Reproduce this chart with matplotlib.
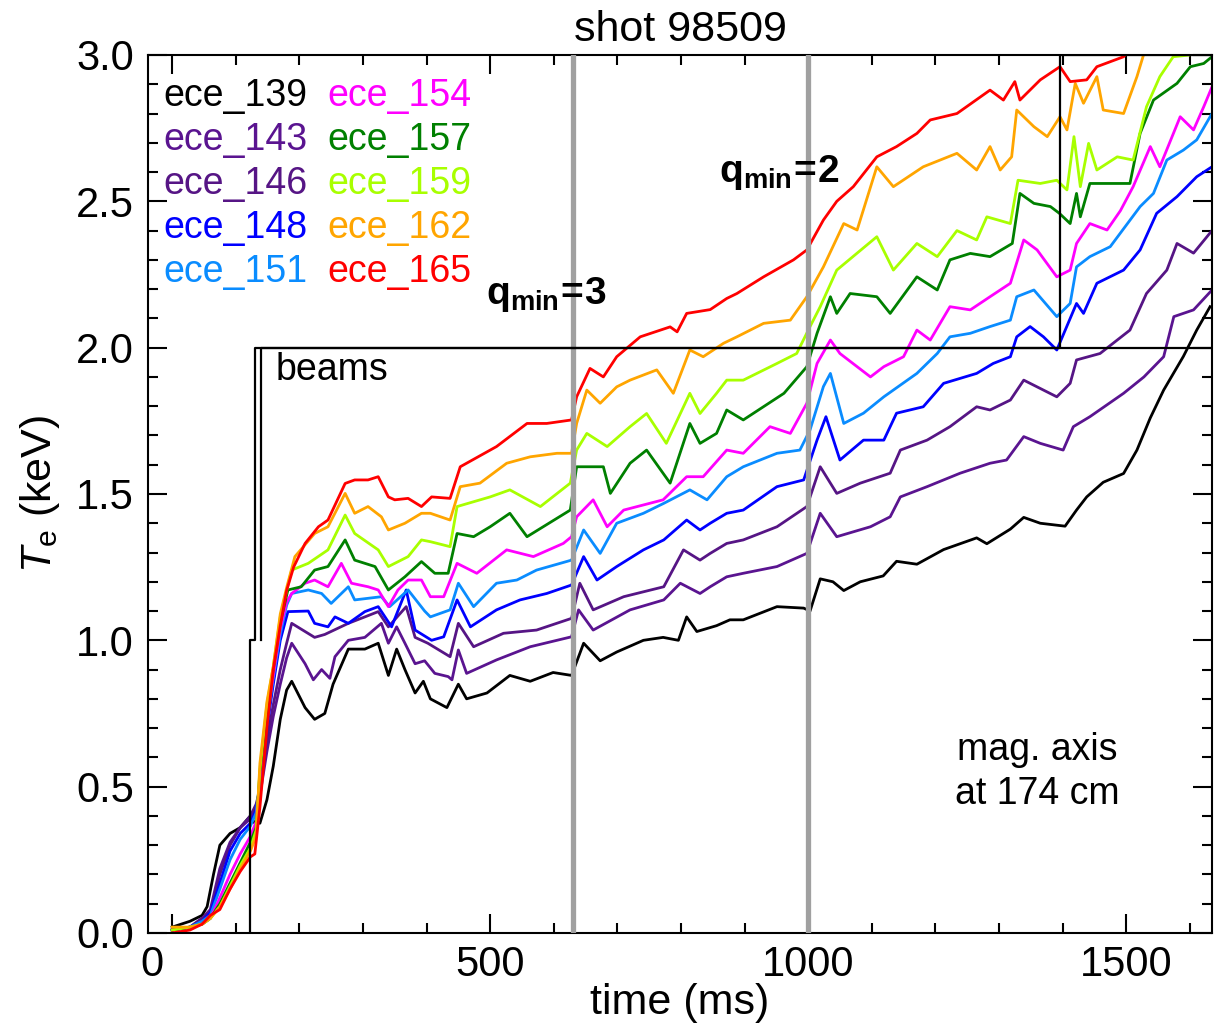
import numpy as np
import matplotlib
matplotlib.use('Agg')
import matplotlib.pyplot as plt
from matplotlib.ticker import MultipleLocator
from matplotlib.transforms import ScaledTranslation

plt.rcParams['font.family'] = ['Liberation Sans', 'DejaVu Sans']
plt.rcParams['mathtext.fontset'] = 'custom'
plt.rcParams['mathtext.rm'] = 'Liberation Sans'
plt.rcParams['mathtext.it'] = 'Liberation Sans:italic'
plt.rcParams['mathtext.bf'] = 'Liberation Sans:bold'

# Te traces, (time ms, Te keV)
ece_139 = [(0, 0.02), (28, 0.04), (47, 0.06), (55, 0.09), (65, 0.20), (75, 0.30), (91, 0.34), (107, 0.36),
           (123, 0.40), (130, 0.375), (138, 0.375), (149, 0.455), (159, 0.57), (170, 0.73), (180, 0.83),
           (188, 0.86), (209, 0.77), (224, 0.73), (240, 0.75), (253, 0.85), (277, 0.97), (303, 0.97),
           (324, 0.99), (340, 0.88), (353, 0.97), (366, 0.90), (382, 0.82), (395, 0.86), (406, 0.80),
           (432, 0.77), (450, 0.85), (463, 0.80), (495, 0.82), (531, 0.88), (563, 0.86), (599, 0.89),
           (628, 0.88), (647, 0.99), (673, 0.93), (699, 0.96), (741, 1.00), (772, 1.01), (796, 1.00),
           (809, 1.08), (825, 1.03), (856, 1.05), (877, 1.07), (898, 1.07), (951, 1.115), (993, 1.11),
           (1003, 1.10), (1019, 1.21), (1039, 1.20), (1056, 1.17), (1082, 1.20), (1118, 1.22), (1139, 1.27),
           (1171, 1.26), (1213, 1.31), (1265, 1.35), (1281, 1.33), (1318, 1.38), (1339, 1.42), (1365, 1.40),
           (1404, 1.39), (1422, 1.445), (1438, 1.49), (1464, 1.54), (1496, 1.57), (1517, 1.65), (1538, 1.76),
           (1559, 1.855), (1590, 1.97), (1611, 2.06), (1632, 2.14)]

ece_143 = [(0, 0.01), (28, 0.02), (47, 0.05), (60, 0.08), (75, 0.22), (91, 0.31), (107, 0.36), (123, 0.39),
           (132, 0.43), (138, 0.47), (149, 0.62), (159, 0.74), (170, 0.85), (180, 0.94), (188, 0.99),
           (209, 0.92), (222, 0.865), (235, 0.90), (248, 0.87), (256, 0.944), (277, 1.0), (303, 1.01),
           (329, 1.058), (340, 0.99), (353, 1.046), (366, 0.99), (382, 0.92), (397, 0.93), (413, 0.887),
           (434, 0.876), (440, 0.865), (450, 0.967), (463, 0.887), (510, 0.933), (563, 0.978), (628, 1.012),
           (639, 1.104), (662, 1.035), (720, 1.104), (773, 1.138), (799, 1.195), (830, 1.16), (846, 1.183),
           (872, 1.217), (898, 1.229), (951, 1.252), (998, 1.297), (1019, 1.434), (1045, 1.354), (1098, 1.388),
           (1129, 1.422), (1145, 1.49), (1187, 1.525), (1239, 1.571), (1286, 1.605), (1312, 1.616),
           (1339, 1.696), (1365, 1.673), (1401, 1.65), (1417, 1.73), (1443, 1.764), (1496, 1.844),
           (1528, 1.90), (1559, 1.969), (1575, 2.106), (1606, 2.129), (1635, 2.197)]

ece_146 = [(0, 0.01), (28, 0.02), (47, 0.05), (60, 0.07), (75, 0.20), (91, 0.30), (107, 0.36), (123, 0.40),
           (132, 0.44), (138, 0.49), (149, 0.66), (159, 0.78), (170, 0.90), (180, 0.99), (188, 1.058),
           (224, 1.01), (240, 1.02), (277, 1.058), (303, 1.08), (324, 1.098), (340, 1.046), (368, 1.115),
           (382, 1.01), (402, 0.99), (437, 0.944), (450, 1.058), (474, 0.978), (521, 1.024), (573, 1.035),
           (628, 1.075), (641, 1.195), (662, 1.104), (710, 1.149), (773, 1.183), (804, 1.309), (830, 1.274),
           (846, 1.297), (872, 1.331), (898, 1.343), (951, 1.388), (998, 1.457), (1019, 1.593), (1045, 1.502),
           (1082, 1.537), (1129, 1.571), (1145, 1.65), (1187, 1.684), (1223, 1.73), (1265, 1.798),
           (1286, 1.787), (1318, 1.821), (1339, 1.889), (1391, 1.832), (1412, 1.878), (1422, 1.958),
           (1459, 1.98), (1506, 2.06), (1532, 2.185), (1564, 2.265), (1580, 2.356), (1606, 2.323), (1635, 2.40)]

ece_148 = [(0, 0.01), (28, 0.02), (47, 0.04), (60, 0.07), (75, 0.17), (91, 0.28), (107, 0.34), (123, 0.375),
           (132, 0.42), (138, 0.50), (149, 0.70), (159, 0.85), (170, 1.00), (182, 1.098), (214, 1.10),
           (224, 1.058), (245, 1.046), (256, 1.08), (277, 1.058), (303, 1.098), (324, 1.115), (345, 1.046),
           (368, 1.172), (382, 1.035), (408, 1.0), (427, 1.012), (448, 1.138), (469, 1.046), (510, 1.104),
           (547, 1.138), (589, 1.16), (628, 1.189), (647, 1.286), (668, 1.206), (699, 1.252), (741, 1.309),
           (773, 1.343), (809, 1.411), (830, 1.377), (846, 1.40), (872, 1.434), (898, 1.445), (951, 1.525),
           (993, 1.548), (1014, 1.684), (1028, 1.764), (1050, 1.616), (1087, 1.684), (1119, 1.684),
           (1139, 1.776), (1181, 1.798), (1213, 1.878), (1265, 1.912), (1291, 1.946), (1318, 1.969),
           (1328, 2.037), (1349, 2.072), (1370, 2.037), (1391, 1.992), (1422, 2.151), (1433, 2.117),
           (1454, 2.22), (1496, 2.265), (1522, 2.334), (1548, 2.459), (1580, 2.516), (1611, 2.584), (1635, 2.618)]

ece_151 = [(0, 0.01), (28, 0.02), (47, 0.04), (60, 0.06), (75, 0.15), (91, 0.25), (107, 0.32), (123, 0.365),
           (132, 0.41), (138, 0.52), (149, 0.72), (159, 0.87), (170, 1.02), (180, 1.12), (188, 1.16),
           (214, 1.172), (235, 1.16), (250, 1.126), (277, 1.183), (287, 1.138), (329, 1.149), (342, 1.115),
           (371, 1.172), (397, 1.10), (406, 1.08), (437, 1.104), (450, 1.195), (474, 1.115), (510, 1.195),
           (542, 1.206), (573, 1.24), (628, 1.274), (647, 1.377), (673, 1.297), (699, 1.40), (741, 1.434),
           (773, 1.468), (814, 1.514), (841, 1.48), (872, 1.559), (898, 1.593), (951, 1.639), (987, 1.65),
           (1003, 1.719), (1024, 1.867), (1035, 1.912), (1056, 1.741), (1087, 1.776), (1119, 1.832),
           (1171, 1.912), (1203, 1.98), (1223, 2.037), (1255, 2.049), (1286, 2.072), (1318, 2.094),
           (1328, 2.174), (1355, 2.197), (1391, 2.106), (1412, 2.151), (1422, 2.276), (1443, 2.311),
           (1475, 2.345), (1522, 2.482), (1543, 2.527), (1564, 2.641), (1590, 2.675), (1611, 2.71), (1635, 2.80)]

ece_154 = [(0, 0.01), (28, 0.02), (47, 0.03), (60, 0.05), (75, 0.12), (91, 0.20), (107, 0.27), (123, 0.33),
           (132, 0.38), (138, 0.53), (149, 0.74), (159, 0.88), (170, 1.04), (180, 1.13), (188, 1.16),
           (209, 1.195), (224, 1.206), (245, 1.183), (266, 1.263), (282, 1.195), (308, 1.183), (324, 1.172),
           (340, 1.115), (355, 1.172), (371, 1.206), (392, 1.206), (406, 1.149), (427, 1.149), (448, 1.263),
           (479, 1.229), (526, 1.309), (568, 1.286), (615, 1.331), (628, 1.354), (636, 1.422), (662, 1.48),
           (684, 1.388), (710, 1.445), (772, 1.48), (809, 1.559), (835, 1.559), (872, 1.65), (898, 1.639),
           (940, 1.73), (972, 1.707), (998, 1.81), (1014, 1.946), (1035, 2.026), (1050, 1.98), (1077, 1.935),
           (1098, 1.90), (1119, 1.935), (1150, 1.969), (1171, 2.06), (1192, 2.026), (1223, 2.14),
           (1255, 2.129), (1286, 2.174), (1318, 2.22), (1339, 2.368), (1360, 2.334), (1391, 2.242),
           (1412, 2.265), (1422, 2.356), (1443, 2.424), (1470, 2.402), (1491, 2.468), (1511, 2.55),
           (1538, 2.687), (1553, 2.618), (1585, 2.789), (1606, 2.744), (1622, 2.823), (1635, 2.891)]

ece_157 = [(0, 0.01), (28, 0.02), (47, 0.03), (60, 0.05), (75, 0.10), (91, 0.17), (107, 0.24), (123, 0.31),
           (132, 0.36), (138, 0.55), (149, 0.76), (159, 0.90), (170, 1.06), (182, 1.172), (203, 1.183),
           (224, 1.24), (245, 1.252), (272, 1.343), (287, 1.274), (319, 1.252), (340, 1.172), (366, 1.217),
           (392, 1.269), (413, 1.229), (434, 1.229), (448, 1.365), (474, 1.354), (500, 1.388), (531, 1.434),
           (558, 1.354), (626, 1.445), (636, 1.593), (678, 1.593), (689, 1.502), (720, 1.605), (746, 1.65),
           (783, 1.537), (814, 1.741), (830, 1.673), (856, 1.707), (872, 1.787), (898, 1.753), (962, 1.844),
           (998, 1.935), (1014, 2.049), (1035, 2.174), (1045, 2.117), (1066, 2.185), (1108, 2.174),
           (1129, 2.117), (1171, 2.242), (1203, 2.197), (1223, 2.30), (1255, 2.322), (1286, 2.311),
           (1321, 2.356), (1333, 2.527), (1355, 2.493), (1381, 2.482), (1395, 2.459), (1412, 2.424),
           (1422, 2.527), (1428, 2.447), (1443, 2.561), (1470, 2.561), (1506, 2.561), (1522, 2.732),
           (1543, 2.846), (1580, 2.903), (1601, 2.96), (1622, 2.971), (1635, 2.994)]

ece_159 = [(0, 0.01), (28, 0.02), (47, 0.03), (60, 0.05), (75, 0.09), (91, 0.16), (107, 0.23), (123, 0.29),
           (132, 0.35), (138, 0.56), (149, 0.78), (159, 0.91), (170, 1.08), (180, 1.17), (188, 1.24),
           (214, 1.263), (245, 1.309), (272, 1.428), (287, 1.365), (324, 1.309), (340, 1.252), (371, 1.286),
           (392, 1.343), (406, 1.337), (437, 1.32), (448, 1.457), (500, 1.49), (531, 1.514), (579, 1.457),
           (626, 1.537), (636, 1.65), (652, 1.707), (684, 1.662), (720, 1.73), (746, 1.775), (777, 1.673),
           (814, 1.844), (830, 1.775), (856, 1.844), (872, 1.889), (898, 1.889), (951, 1.946), (982, 1.98),
           (1003, 2.072), (1019, 2.14), (1045, 2.265), (1108, 2.379), (1134, 2.265), (1171, 2.356),
           (1203, 2.311), (1234, 2.40), (1265, 2.368), (1281, 2.447), (1318, 2.424), (1330, 2.572),
           (1365, 2.561), (1391, 2.572), (1407, 2.539), (1418, 2.721), (1428, 2.55), (1441, 2.698),
           (1454, 2.607), (1486, 2.652), (1511, 2.641), (1532, 2.823), (1553, 2.926), (1574, 2.994),
           (1600, 3.0), (1620, 3.05)]

ece_162 = [(0, 0.02), (28, 0.02), (47, 0.03), (60, 0.05), (75, 0.09), (91, 0.15), (107, 0.22), (123, 0.28),
           (132, 0.33), (138, 0.58), (149, 0.79), (159, 0.91), (170, 1.09), (180, 1.18), (193, 1.286),
           (224, 1.365), (245, 1.388), (272, 1.502), (287, 1.434), (308, 1.457), (329, 1.422), (340, 1.377),
           (366, 1.40), (392, 1.434), (406, 1.434), (437, 1.411), (453, 1.525), (484, 1.537), (526, 1.605),
           (563, 1.627), (605, 1.639), (628, 1.639), (636, 1.741), (652, 1.855), (673, 1.81), (699, 1.866),
           (720, 1.889), (762, 1.924), (788, 1.844), (814, 1.992), (835, 1.969), (867, 2.015), (888, 2.037),
           (930, 2.083), (972, 2.094), (998, 2.174), (1024, 2.276), (1056, 2.424), (1077, 2.402),
           (1108, 2.618), (1134, 2.55), (1181, 2.618), (1234, 2.664), (1265, 2.607), (1286, 2.687),
           (1302, 2.607), (1320, 2.652), (1328, 2.812), (1355, 2.755), (1376, 2.721), (1396, 2.789),
           (1407, 2.744), (1420, 2.903), (1433, 2.835), (1454, 2.926), (1464, 2.812), (1496, 2.80),
           (1517, 2.926), (1528, 3.005), (1550, 3.06)]

ece_165 = [(0, 0.0), (28, 0.01), (47, 0.03), (60, 0.06), (75, 0.08), (91, 0.15), (107, 0.21), (123, 0.26),
           (130, 0.27), (138, 0.43), (149, 0.70), (159, 0.90), (170, 1.05), (180, 1.17), (191, 1.25),
           (209, 1.331), (230, 1.388), (245, 1.411), (272, 1.536), (287, 1.548), (308, 1.548), (324, 1.559),
           (340, 1.49), (350, 1.48), (371, 1.485), (392, 1.457), (408, 1.49), (437, 1.485), (453, 1.593),
           (510, 1.662), (558, 1.741), (589, 1.741), (628, 1.753), (636, 1.832), (657, 1.929), (678, 1.90),
           (699, 1.969), (736, 2.037), (783, 2.071), (794, 2.054), (809, 2.117), (846, 2.13), (872, 2.168),
           (888, 2.185), (930, 2.242), (977, 2.30), (998, 2.334), (1024, 2.436), (1045, 2.50), (1071, 2.55),
           (1108, 2.652), (1139, 2.687), (1171, 2.732), (1192, 2.778), (1234, 2.80), (1286, 2.88),
           (1307, 2.846), (1325, 2.909), (1333, 2.846), (1365, 2.915), (1396, 2.96), (1412, 2.909),
           (1438, 2.915), (1454, 2.96), (1496, 2.994), (1520, 3.05)]

channels = ['ece_139', 'ece_143', 'ece_146', 'ece_148', 'ece_151',
            'ece_154', 'ece_157', 'ece_159', 'ece_162', 'ece_165']
traces = [ece_139, ece_143, ece_146, ece_148, ece_151,
          ece_154, ece_157, ece_159, ece_162, ece_165]
colors = ['black', '#5a1490', '#561585', '#0000ff', '#0a8cff',
          '#ff00ff', '#008000', '#a8ff00', '#ffa500', '#ff0000']

# neutral beam power steps (arb.)
beam1_t = [123, 123, 130, 130, 1635]
beam1_v = [0, 1, 1, 2, 2]
beam2_t = [139, 139, 1396, 1396, 1635]
beam2_v = [1, 2, 2, 3, 3]

qmin_times = [630, 1000]

fig = plt.figure(figsize=(12.16, 10.24), dpi=100)
ax = fig.add_axes([0.1217, 0.0889, 0.8750, 0.8574])

for tr, c in zip(traces, colors):
    t, v = zip(*tr)
    ax.plot(t, v, color=c, lw=2.0, zorder=2)

for tq in qmin_times:
    ax.axvline(tq, color='#a0a0a0', lw=3.8, zorder=3)

ax.plot(beam1_t, beam1_v, color='k', lw=1.6, zorder=4)
ax.plot(beam2_t, beam2_v, color='k', lw=1.6, zorder=4)

ax.set_xlim(-38, 1635)
ax.set_ylim(0, 3.0)
ax.xaxis.set_major_locator(MultipleLocator(500))
ax.xaxis.set_minor_locator(MultipleLocator(100))
ax.yaxis.set_major_locator(MultipleLocator(0.5))
ax.yaxis.set_minor_locator(MultipleLocator(0.1))
ax.yaxis.set_major_formatter(plt.FuncFormatter(lambda y, p: '%.1f' % y))
ax.tick_params(which='both', direction='in', top=True, right=True, width=1.5)
ax.tick_params(which='major', length=14, labelsize=30)
ax.tick_params(which='minor', length=7)
ax.tick_params(axis='x', pad=9)
ax.tick_params(axis='y', pad=10)
for s in ax.spines.values():
    s.set_linewidth(1.5)

ax.set_xlabel('time (ms)', fontsize=31, labelpad=-2)
ax.set_ylabel(r'$T_{\rm e}$ (keV)', fontsize=31, labelpad=10)
ax.set_title('shot 98509', fontsize=31, pad=10)

# legend as coloured text, two columns
for i, (name, c) in enumerate(zip(channels, colors)):
    col, row = divmod(i, 5)
    ax.text(-14 + col * 258, 2.86 - row * 0.1503, name, color=c, fontsize=27,
            ha='left', va='center')

ax.text(162, 1.925, 'beams', fontsize=27, ha='left', va='center')
ax.text(493, 2.18, r'$\mathbf{q_{min}\!=\!3}$', fontsize=28, ha='left', va='center')
ax.text(860, 2.60, r'$\mathbf{q_{min}\!=\!2}$', fontsize=28, ha='left', va='center')
ax.text(1360, 0.55, 'mag. axis\nat 174 cm', fontsize=27, ha='center', va='center',
        linespacing=1.3)

fig.canvas.draw()
for tk in ax.xaxis.get_major_ticks():
    if tk.label1.get_text() == '0':
        tk.label1.set_transform(tk.label1.get_transform() + ScaledTranslation(-0.2, 0, fig.dpi_scale_trans))

fig.savefig('out.png', dpi=100)
